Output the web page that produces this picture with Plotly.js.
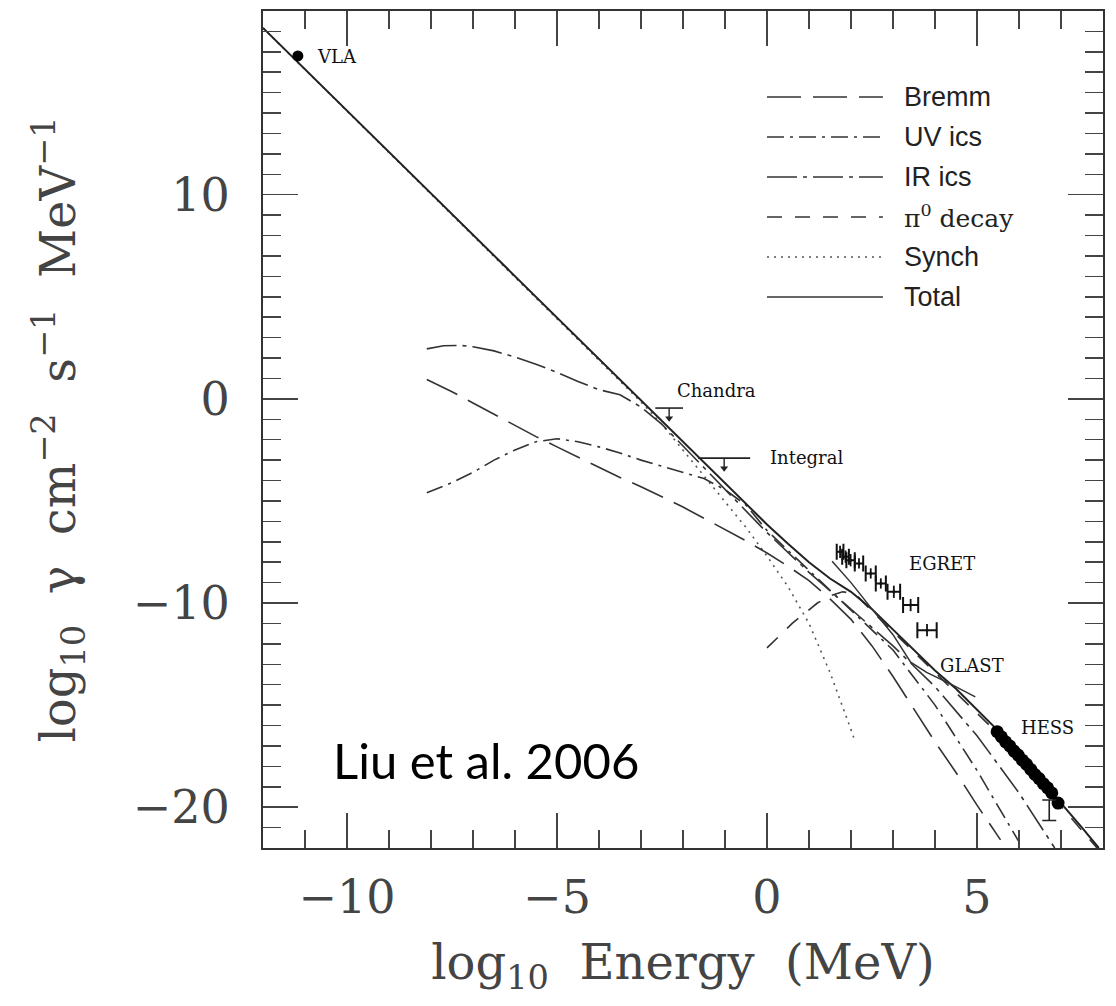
<!DOCTYPE html>
<html><head><meta charset="utf-8">
<script src="https://cdn.plot.ly/plotly-3.0.1.min.js"></script>
<style>html,body{margin:0;padding:0;background:#fff}#chart{width:1116px;height:1006px}</style>
</head><body><div id="chart"></div>
<script>
// ---- model curves (log10 E [MeV], log10 flux) ----
const synchX = [-12, -8, -4, -3, -2.5, -2, -1.5, -1, -0.5, 0, 0.5, 1, 1.5, 2, 2.1];
const synchY = [18.17, 10.05, 1.9, -0.15, -1.25, -2.5, -3.75, -5.0, -6.3, -7.7, -9.2, -11.0, -13.4, -16.2, -16.8];

const bremmX = [-8.1, -7.5, -7, -6.5, -6, -5.5, -5, -4.5, -4, -3.5, -3, -2.5, -2, -1.5, -1, -0.5, 0, 0.5, 1, 1.5, 2, 2.5, 3, 3.5, 4, 4.5, 5, 5.56];
const bremmY = [0.95, 0.35, -0.2, -0.75, -1.3, -1.85, -2.35, -2.85, -3.35, -3.85, -4.3, -4.8, -5.3, -5.85, -6.4, -6.95, -7.55, -8.2, -8.9, -9.8, -10.8, -12.1, -13.6, -15.2, -16.8, -18.3, -19.9, -21.6];

const uvX = [-8.1, -7.5, -7, -6.5, -6, -5.5, -5, -4.5, -4, -3.5, -3, -2.5, -2, -1.5, -1, -0.5, 0, 1, 2, 3, 4, 5, 6];
const uvY = [-4.6, -4.1, -3.6, -3.0, -2.5, -2.1, -1.95, -2.1, -2.35, -2.65, -3.0, -3.3, -3.6, -3.9, -4.45, -5.2, -6.45, -8.4, -10.3, -12.3, -15.0, -18.2, -21.7];

const irX = [-8.1, -7.7, -7.3, -7, -6.5, -6, -5.5, -5, -4.5, -4, -3.5, -3, -2.5, -2, -1.5, -1, -0.5, 0, 1, 2, 3, 4, 5, 6, 6.85];
const irY = [2.45, 2.6, 2.62, 2.55, 2.35, 2.05, 1.7, 1.3, 0.85, 0.45, 0.2, -0.4, -1.25, -2.3, -3.4, -4.45, -5.5, -6.55, -8.5, -10.3, -12.1, -14.1, -16.5, -19.3, -22.0];

const pi0X = [0, 0.3, 0.6, 0.9, 1.2, 1.5, 1.8, 2.1, 2.5, 3, 3.5, 4, 4.5, 5, 5.5, 6, 6.5, 7, 7.5, 7.9];
const pi0Y = [-12.2, -11.6, -11.0, -10.5, -10.0, -9.65, -9.45, -9.55, -10.4, -11.4, -12.4, -13.4, -14.35, -15.35, -16.4, -17.6, -18.75, -19.95, -21.15, -22.1];

const totalX = [-12, -8, -4, -2, -1, 0, 0.5, 1, 1.5, 2, 2.5, 3, 3.5, 4, 4.5, 5, 5.5, 6, 6.5, 7, 7.5, 7.9];
const totalY = [18.17, 10.05, 1.93, -2.13, -4.15, -6.15, -7.1, -8.0, -8.8, -9.45, -10.3, -11.3, -12.3, -13.3, -14.2, -15.2, -16.25, -17.45, -18.6, -19.8, -21.0, -22.0];

const glastX = [1.55, 2.0, 2.5, 3.0, 3.42, 3.8, 4.4, 4.96];
const glastY = [-7.95, -9.0, -10.3, -11.55, -12.9, -13.4, -14.0, -14.6];

// ---- observations ----
const vlaX = [-11.17];
const vlaY = [16.8];

const egretX = [1.74, 1.87, 1.99, 2.19, 2.47, 2.71, 3.02, 3.42, 3.81];
const egretY = [-7.49, -7.73, -7.9, -8.06, -8.55, -9.04, -9.45, -10.1, -11.33];
const egretDx = [0.08, 0.08, 0.1, 0.1, 0.12, 0.12, 0.15, 0.18, 0.23];
const egretDy = [0.3, 0.3, 0.3, 0.25, 0.25, 0.25, 0.3, 0.3, 0.3];

const hessX = [5.48, 5.58, 5.68, 5.78, 5.88, 5.98, 6.08, 6.18, 6.28, 6.38, 6.48, 6.58, 6.68, 6.78, 6.93];
const hessY = [-16.3, -16.55, -16.8, -17.0, -17.25, -17.45, -17.7, -17.9, -18.15, -18.4, -18.6, -18.85, -19.05, -19.3, -19.8];
const hessLastX = [6.72];
const hessLastY = [-20.15];
const hessLastErr = [0.5];

const ulNames = ['Chandra', 'Integral'];
const ulX = [-2.33, -1.02];
const ulXlo = [-2.66, -1.64];
const ulXhi = [-2.0, -0.40];
const ulY = [-0.45, -2.9];
const ulArrowLen = [0.5, 0.5];

// ---- text labels ----
const labelText = ['VLA', 'Chandra', 'Integral', 'EGRET', 'GLAST', 'HESS'];
const labelX = [-10.76, -2.18, 0.03, 3.34, 4.06, 5.99];
const labelY = [16.75, 0.43, -2.85, -8.05, -13.04, -16.08];

// ---- legend ----
const legendNames = ['Bremm', 'UV ics', 'IR ics', 'π<sup>0</sup> decay', 'Synch', 'Total'];
const legendDash = ['34px,12px', '17px,6px,3px,6px', '30px,6px,4px,6px', '15px,13px', '2px,5px', 'solid'];

const C = '#333';
const TXT = '#444';
const serif = 'DejaVu Serif, serif';

function curve(name, x, y, dash, width, color) {
  return {type: 'scatter', mode: 'lines', name: name, x: x, y: y,
          line: {color: color || C, width: width || 1.5, dash: dash}, hoverinfo: 'name'};
}

const traces = [
  curve('Synch', synchX, synchY, legendDash[4], 1.6, '#555'),
  curve('Bremm', bremmX, bremmY, legendDash[0], 1.6),
  curve('UV ics', uvX, uvY, legendDash[1], 1.6),
  curve('IR ics', irX, irY, legendDash[2], 1.6),
  curve('π0 decay', pi0X, pi0Y, legendDash[3], 1.6),
  curve('Total', totalX, totalY, 'solid', 2, '#222'),
  curve('GLAST sensitivity', glastX, glastY, 'solid', 1.5, '#333'),
  {type: 'scatter', mode: 'markers', name: 'VLA', x: vlaX, y: vlaY,
   marker: {color: '#000', size: 11}},
  {type: 'scatter', mode: 'markers', name: 'EGRET', x: egretX, y: egretY,
   marker: {color: '#111', size: 3},
   error_x: {type: 'data', array: egretDx, color: '#111', thickness: 2, width: 8},
   error_y: {type: 'data', array: egretDy, color: '#111', thickness: 1.8, width: 0}},
  {type: 'scatter', mode: 'markers', name: 'HESS', x: hessX, y: hessY,
   marker: {color: '#000', size: 13}},
  {type: 'scatter', mode: 'markers', name: 'HESS', x: hessLastX, y: hessLastY,
   marker: {color: 'rgba(0,0,0,0)', size: 1},
   error_y: {type: 'data', array: hessLastErr, color: '#222', thickness: 1.6, width: 7}},
  {type: 'scatter', mode: 'markers', name: 'upper limits', x: ulX, y: ulY,
   marker: {color: 'rgba(0,0,0,0)', size: 1},
   error_x: {type: 'data', symmetric: false,
             array: ulX.map((v, i) => ulXhi[i] - v),
             arrayminus: ulX.map((v, i) => v - ulXlo[i]),
             color: '#222', thickness: 1.6, width: 0},
   error_y: {type: 'data', symmetric: false, array: ulX.map(() => 0),
             arrayminus: ulArrowLen, color: '#222', thickness: 1.4, width: 0}},
  {type: 'scatter', mode: 'markers', name: 'upper-limit arrows', x: ulX,
   y: ulY.map((v, i) => v - ulArrowLen[i]),
   marker: {symbol: 'triangle-down', size: 7, color: '#222'}}
];

const annotations = [];
labelText.forEach((t, i) => annotations.push({
  x: labelX[i], y: labelY[i], xref: 'x', yref: 'y', text: t, showarrow: false,
  xanchor: 'left', yanchor: 'middle',
  font: {family: 'DejaVu Serif, serif', size: 18, color: '#111'}
}));

// legend drawn in paper coordinates
const legX0 = 0.6, legX1 = 0.738, legTextX = 0.761;
const legRowY = [0.8973, 0.8495, 0.8017, 0.7539, 0.7061, 0.6583];
const shapes = [];
legendNames.forEach((n, i) => {
  shapes.push({type: 'line', xref: 'paper', yref: 'paper', x0: legX0, x1: legX1,
    y0: legRowY[i], y1: legRowY[i],
    line: {color: i === 4 ? '#555' : C, width: 1.6, dash: legendDash[i]}});
  annotations.push({x: legTextX, y: legRowY[i], xref: 'paper', yref: 'paper', text: n,
    showarrow: false, xanchor: 'left', yanchor: 'middle',
    font: i === 3 ? {family: 'DejaVu Serif, serif', size: 25, color: '#222'}
                  : {family: 'Liberation Sans, Arial, sans-serif', size: 27, color: '#222'}});
});

annotations.push({x: 0.266, y: 0.105, xref: 'paper', yref: 'paper', text: 'Liu et al. 2006',
  showarrow: false, xanchor: 'center', yanchor: 'middle',
  font: {family: 'Lato, sans-serif', size: 49, color: '#000'}});

const axisCommon = {
  showline: true, linecolor: C, linewidth: 2, mirror: 'allticks',
  ticks: 'inside', ticklen: 35, tickwidth: 1.5, tickcolor: '#444',
  showgrid: false, zeroline: false,
  tickfont: {family: serif, size: 46, color: TXT},
  tickmode: 'linear', tick0: 0
};

const layout = {
  width: 1116, height: 1006,
  margin: {l: 263, r: 13, t: 11, b: 158},
  paper_bgcolor: '#fff', plot_bgcolor: '#fff',
  showlegend: false,
  xaxis: Object.assign({}, axisCommon, {
    range: [-12, 8], dtick: 5, ticklabelstandoff: 8,
    minor: {dtick: 1, tick0: 0, ticks: 'inside', ticklen: 18, tickwidth: 1.5, tickcolor: '#444', showgrid: false},
    title: {text: 'log<sub>10</sub>\u00a0\u00a0Energy\u00a0\u00a0(MeV)', standoff: 22,
            font: {family: serif, size: 48, color: TXT}}
  }),
  yaxis: Object.assign({}, axisCommon, {
    range: [-22, 19], dtick: 10, ticklabelstandoff: 22,
    minor: {dtick: 1, tick0: 0, ticks: 'inside', ticklen: 18, tickwidth: 1.5, tickcolor: '#444', showgrid: false},
    title: {text: 'log<sub>10</sub>\u00a0\u00a0γ\u00a0\u00a0cm<sup>−2</sup>\u00a0\u00a0s<sup>−1</sup>\u00a0\u00a0MeV<sup>−1</sup>', standoff: 42,
            font: {family: serif, size: 48, color: TXT}}
  }),
  annotations: annotations,
  shapes: shapes
};

Plotly.newPlot('chart', traces, layout, {displayModeBar: false, staticPlot: true});
</script></body></html>
